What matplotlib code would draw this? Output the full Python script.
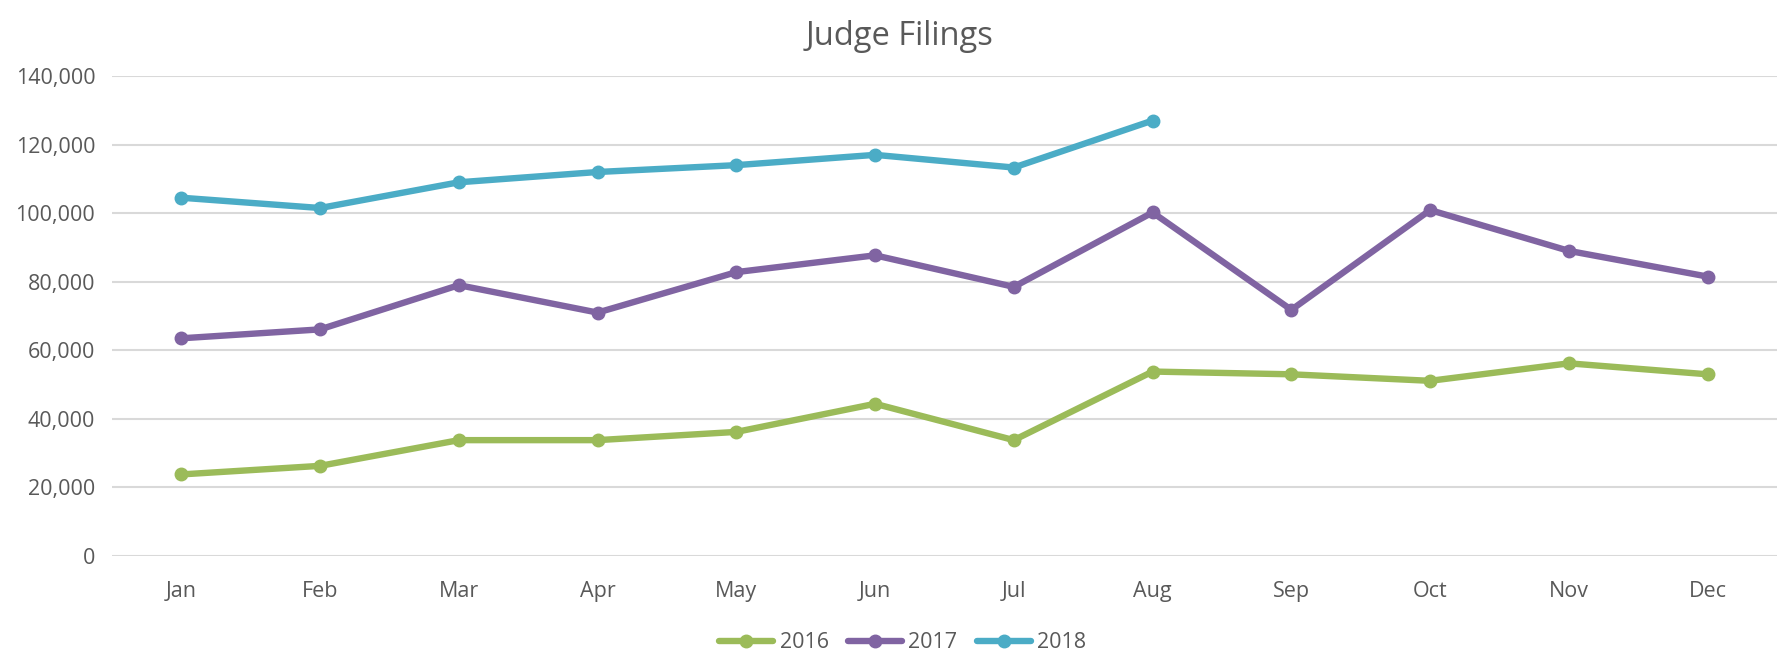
import matplotlib.pyplot as plt
from matplotlib.ticker import FuncFormatter

months = ["Jan", "Feb", "Mar", "Apr", "May", "Jun", "Jul", "Aug", "Sep", "Oct", "Nov", "Dec"]
filings_2016 = [23800, 26300, 33800, 33800, 36200, 44400, 33800, 53800, 53000, 51100, 56200, 53000]
filings_2017 = [63500, 66100, 79000, 71000, 82800, 87700, 78500, 100200, 71800, 100900, 89000, 81500]
filings_2018 = [104500, 101500, 109000, 112000, 114000, 117000, 113300, 127000]
years = ["2016", "2017", "2018"]
colors = ["#9BBB59", "#8064A2", "#4BACC6"]

plt.rcParams['font.family'] = ['Open Sans', 'DejaVu Sans']
text_col = "#595959"

fig = plt.figure(figsize=(17.77, 6.54), dpi=100)
ax = fig.add_axes([0.063, 0.1498, 0.937, 0.734])

series = [filings_2016, filings_2017, filings_2018]
for year, vals, col in zip(years, series, colors):
    ax.plot(range(len(vals)), vals, color=col, lw=4.6, marker='o', ms=9,
            label=year, solid_capstyle='round', zorder=3)

ax.set_xlim(-0.5, 11.5)
ax.set_ylim(0, 140000)
ax.set_yticks(range(0, 140001, 20000))
ax.yaxis.set_major_formatter(FuncFormatter(lambda v, p: f"{int(v):,}"))
ax.set_xticks(range(12))
ax.set_xticklabels(months)
ax.grid(axis='y', color='#D9D9D9', lw=1.5, zorder=0)
for s in ax.spines.values():
    s.set_visible(False)
ax.tick_params(axis='both', length=0, colors=text_col, labelsize=15.5)
ax.tick_params(axis='x', pad=18)
ax.tick_params(axis='y', pad=12)

fig.suptitle("Judge Filings", x=0.506, y=0.97, fontsize=23.5, color=text_col)

leg = fig.legend(loc='center', bbox_to_anchor=(0.508, 0.017), ncol=3, frameon=False,
                 fontsize=15.5, handlelength=2.5, columnspacing=0.9, handletextpad=0.3)
for t in leg.get_texts():
    t.set_color(text_col)

fig.savefig("out.png", dpi=100)
